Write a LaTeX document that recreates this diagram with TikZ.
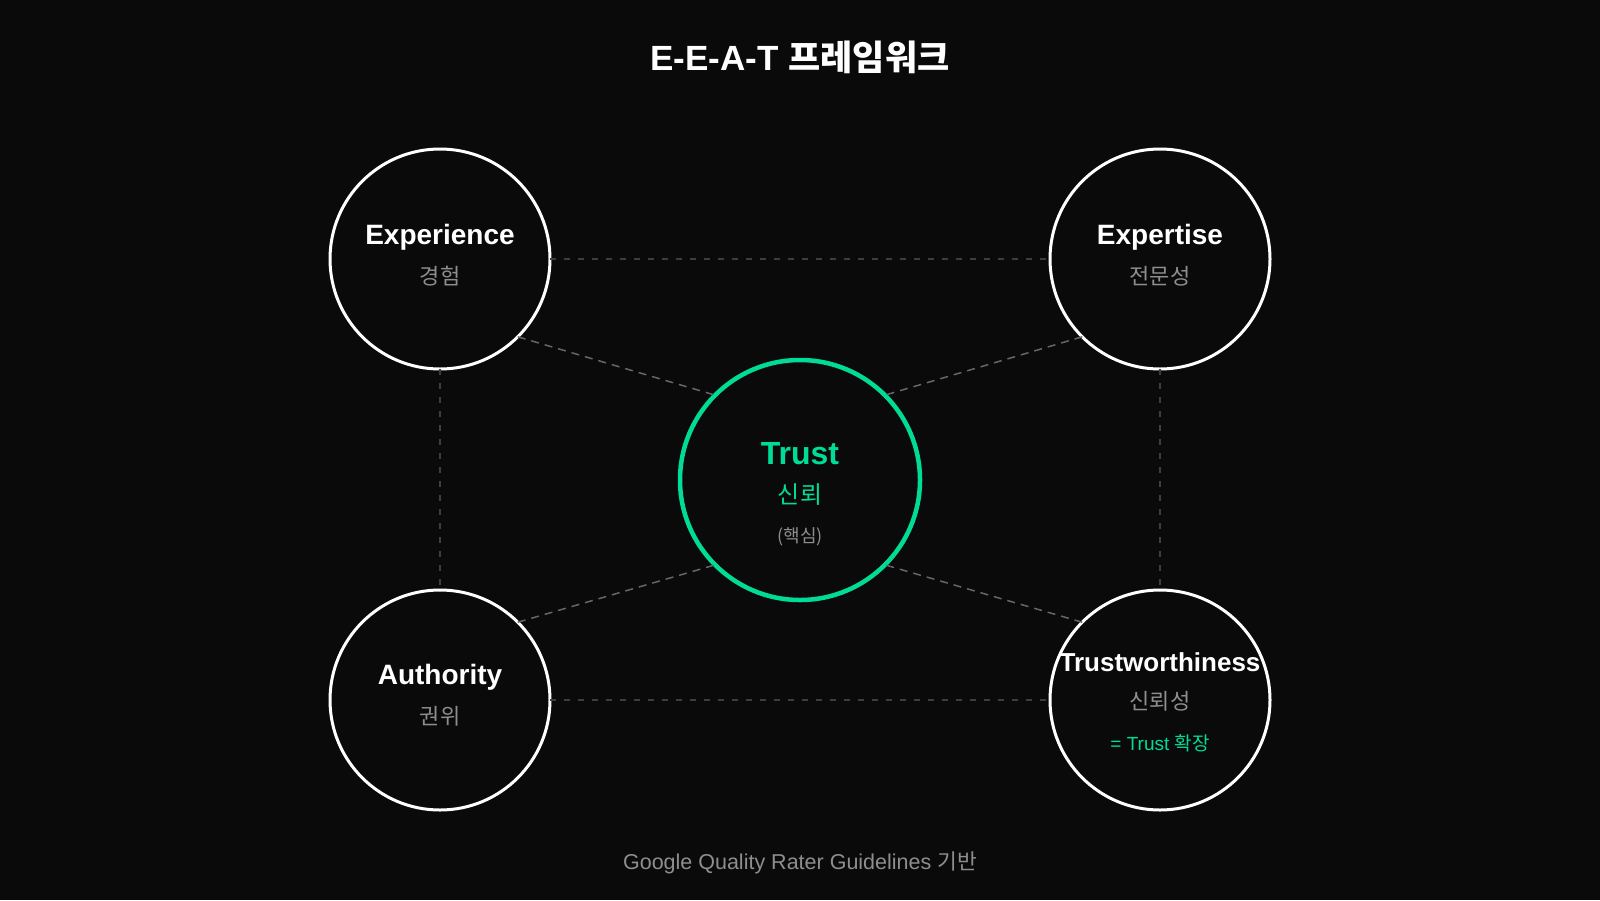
\documentclass[tikz,border=0pt]{standalone}
\usepackage{fontspec}
\setmainfont{Liberation Sans}
\newfontfamily\kr{Noto Sans CJK KR}
\definecolor{bg}{HTML}{0A0A0A}
\definecolor{accent}{HTML}{00DC96}
\definecolor{subgray}{HTML}{8E8E8E}
\definecolor{dashgray}{HTML}{3E3E3E}
\definecolor{diaggray}{HTML}{666666}
\newcommand{\fs}[1]{\fontsize{#1}{#1}\selectfont}
\tikzset{
  pillar/.style={circle, draw=white, line width=3pt, minimum size=220pt, inner sep=0pt, outer sep=0pt, fill=bg},
  core/.style={circle, draw=accent, line width=4.5pt, minimum size=240pt, inner sep=0pt, outer sep=0pt, fill=bg},
  link/.style={draw=dashgray, line width=1.6pt, dash pattern=on 6pt off 8pt},
  spoke/.style={draw=diaggray, line width=1.5pt, dash pattern=on 8pt off 6pt},
  head/.style={text=white, font=\fs{28}\bfseries, inner sep=0pt},
  sub/.style={text=subgray, font=\fs{22}\kr, inner sep=0pt},
}
\begin{document}
\begin{tikzpicture}[x=1pt,y=-1pt]
\fill[bg] (0,0) rectangle (1600,900);
\useasboundingbox (0,0) rectangle (1600,900);

\node (title) at (800,57) [text=white, font=\fs{35}\bfseries, inner sep=0pt] {E-E-A-T {\kr\bfseries 프레임워크}};

\node[pillar] (exp) at (440,259) {};
\node[pillar] (ext) at (1160,259) {};
\node[pillar] (aut) at (440,700) {};
\node[pillar] (trw) at (1160,700) {};
\node[core]   (tru) at (800,480) {};

\draw[link] (exp.east) -- (ext.west);
\draw[link] (aut.east) -- (trw.west);
\draw[link] (exp.south) -- (aut.north);
\draw[link] (ext.south) -- (trw.north);
\draw[spoke] (exp.south east) -- (tru.north west);
\draw[spoke] (ext.south west) -- (tru.north east);
\draw[spoke] (aut.north east) -- (tru.south west);
\draw[spoke] (trw.north west) -- (tru.south east);

\node[head] (expt) at (440,237) {Experience};
\node[sub]  (exps) at (440,276) {경험};
\node[head] (extt) at (1160,237) {Expertise};
\node[sub]  (exts) at (1160,276) {전문성};
\node[head] (autt) at (440,677) {Authority};
\node[sub]  (auts) at (440,716) {권위};
\node[head, font=\fs{26}\bfseries] (trwt) at (1160,662) {Trustworthiness};
\node[sub]  (trws) at (1160,701) {신뢰성};
\node[text=accent, font=\fs{19}, inner sep=0pt] (trwn) at (1160,743) {= Trust {\kr 확장}};

\node[text=accent, font=\fs{32}\bfseries, inner sep=0pt] (trut) at (800,454) {Trust};
\node[text=accent, font=\fs{24}\kr, inner sep=0pt] (trus) at (800,495) {신뢰};
\node[text=subgray, font=\fs{18}\kr, inner sep=0pt] (trun) at (800,537) {(핵심)};

\node[text=subgray, font=\fs{21.5}, inner sep=0pt] (foot) at (800,863) {Google Quality Rater Guidelines {\kr 기반}};
\end{tikzpicture}
\end{document}
